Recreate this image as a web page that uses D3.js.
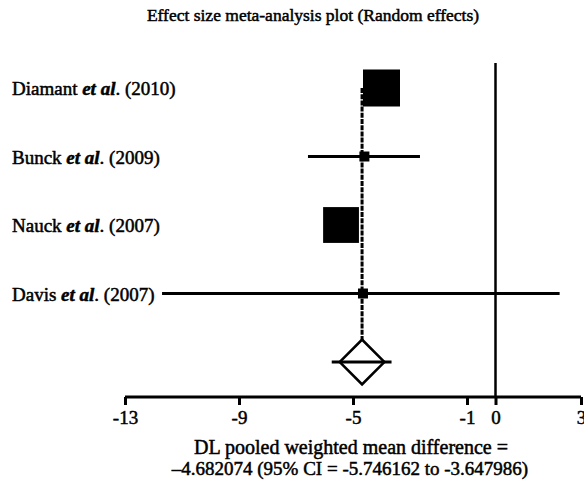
<!DOCTYPE html>
<html>
<head>
<meta charset="utf-8">
<script src="https://cdn.jsdelivr.net/npm/d3@7"></script>
<style>
  body { margin: 0; background: #fff; }
  text { font-family: "Liberation Serif", "Times New Roman", serif; fill: #000; stroke: #000; stroke-width: 0.5px; }
</style>
</head>
<body>
<svg id="chart" width="584" height="483"></svg>
<script>
// donnees du forest plot
const studies = ["Diamant", "Bunck", "Nauck", "Davis"];
const years = ["2010", "2009", "2007", "2007"];
const effects = [-4.0, -4.6, -5.42, -4.65];
const ciLow = [-4.3, -6.58, -5.7, -11.7];
const ciHigh = [-3.7, -2.65, -5.1, 2.25];
const weights = [48, 3.5, 45, 3.5];
const pooled = { est: -4.682074, low: -5.746162, high: -3.647986 };
const tickValues = [-13, -9, -5, -1, 0, 3];

const svg = d3.select("#chart");

// echelles
const x = d3.scaleLinear().domain([-13, 3]).range([125, 581]);
const y = d3.scalePoint().domain([...studies, "pooled"]).range([88, 362]);
const size = d3.scaleSqrt().domain([0, 48]).range([0, 37]);
const axisY = 397;

// titre
svg.append("text")
  .attr("x", 313).attr("y", 21)
  .attr("text-anchor", "middle")
  .style("font-size", "17.5px")
  .text("Effect size meta-analysis plot (Random effects)");

// ligne du zero
svg.append("line")
  .attr("x1", x(0)).attr("x2", x(0))
  .attr("y1", 63).attr("y2", axisY)
  .attr("stroke", "#000").attr("stroke-width", 2.5);

// ligne pointillee de l'estimation poolee
svg.append("line")
  .attr("x1", x(pooled.est)).attr("x2", x(pooled.est))
  .attr("y1", y(studies[0])).attr("y2", y("pooled") - 22)
  .attr("stroke", "#000").attr("stroke-width", 3)
  .attr("stroke-dasharray", "5,1.2");

// intervalles de confiance
svg.selectAll(".ci")
  .data(studies)
  .enter().append("line")
  .attr("class", "ci")
  .attr("x1", (d, i) => x(ciLow[i]))
  .attr("x2", (d, i) => x(ciHigh[i]))
  .attr("y1", d => y(d)).attr("y2", d => y(d))
  .attr("stroke", "#000").attr("stroke-width", 3);

// carres ponderes
svg.selectAll(".sq")
  .data(studies)
  .enter().append("rect")
  .attr("class", "sq")
  .attr("x", (d, i) => x(effects[i]) - size(weights[i]) / 2)
  .attr("y", (d, i) => y(d) - size(weights[i]) / 2)
  .attr("width", (d, i) => size(weights[i]))
  .attr("height", (d, i) => size(weights[i]))
  .attr("fill", "#000");

// libelles des etudes
const labels = svg.selectAll(".lab")
  .data(studies)
  .enter().append("text")
  .attr("class", "lab")
  .attr("x", 12)
  .attr("y", d => y(d) + 7)
  .style("font-size", "19px");
labels.append("tspan").text(d => d + " ");
labels.append("tspan").style("font-style", "italic").style("font-weight", "bold").text("et al");
labels.append("tspan").text((d, i) => ". (" + years[i] + ")");

// estimation poolee : losange
const py = y("pooled");
svg.append("line")
  .attr("x1", x(pooled.low)).attr("x2", x(pooled.high))
  .attr("y1", py).attr("y2", py)
  .attr("stroke", "#000").attr("stroke-width", 3);
svg.append("path")
  .attr("d", d3.symbol().type(d3.symbolSquare).size(1000))
  .attr("transform", "translate(" + x(pooled.est) + "," + py + ") rotate(45)")
  .attr("fill", "none")
  .attr("stroke", "#000").attr("stroke-width", 2.5);

// axe x
const xAxis = d3.axisBottom(x)
  .tickValues(tickValues)
  .tickSize(8)
  .tickPadding(6)
  .tickFormat(d3.format("d"));
const gx = svg.append("g")
  .attr("transform", "translate(0," + axisY + ")")
  .call(xAxis);
gx.select(".domain").attr("stroke-width", 3).attr("d", "M" + x(-13) + ",0H" + x(3));
gx.selectAll(".tick line").attr("stroke-width", 3);
gx.selectAll(".tick text")
  .style("font-family", "Liberation Serif, serif")
  .style("font-size", "19px")
  .text(d => d < 0 ? "-" + Math.abs(d) : d);

// texte du bas
svg.append("text")
  .attr("x", 351).attr("y", 454)
  .attr("text-anchor", "middle")
  .style("font-size", "20px")
  .text("DL pooled weighted mean difference =");
svg.append("text")
  .attr("x", 350).attr("y", 475)
  .attr("text-anchor", "middle")
  .style("font-size", "19px")
  .text("–4.682074 (95% CI = -5.746162 to -3.647986)");
</script>
</body>
</html>
